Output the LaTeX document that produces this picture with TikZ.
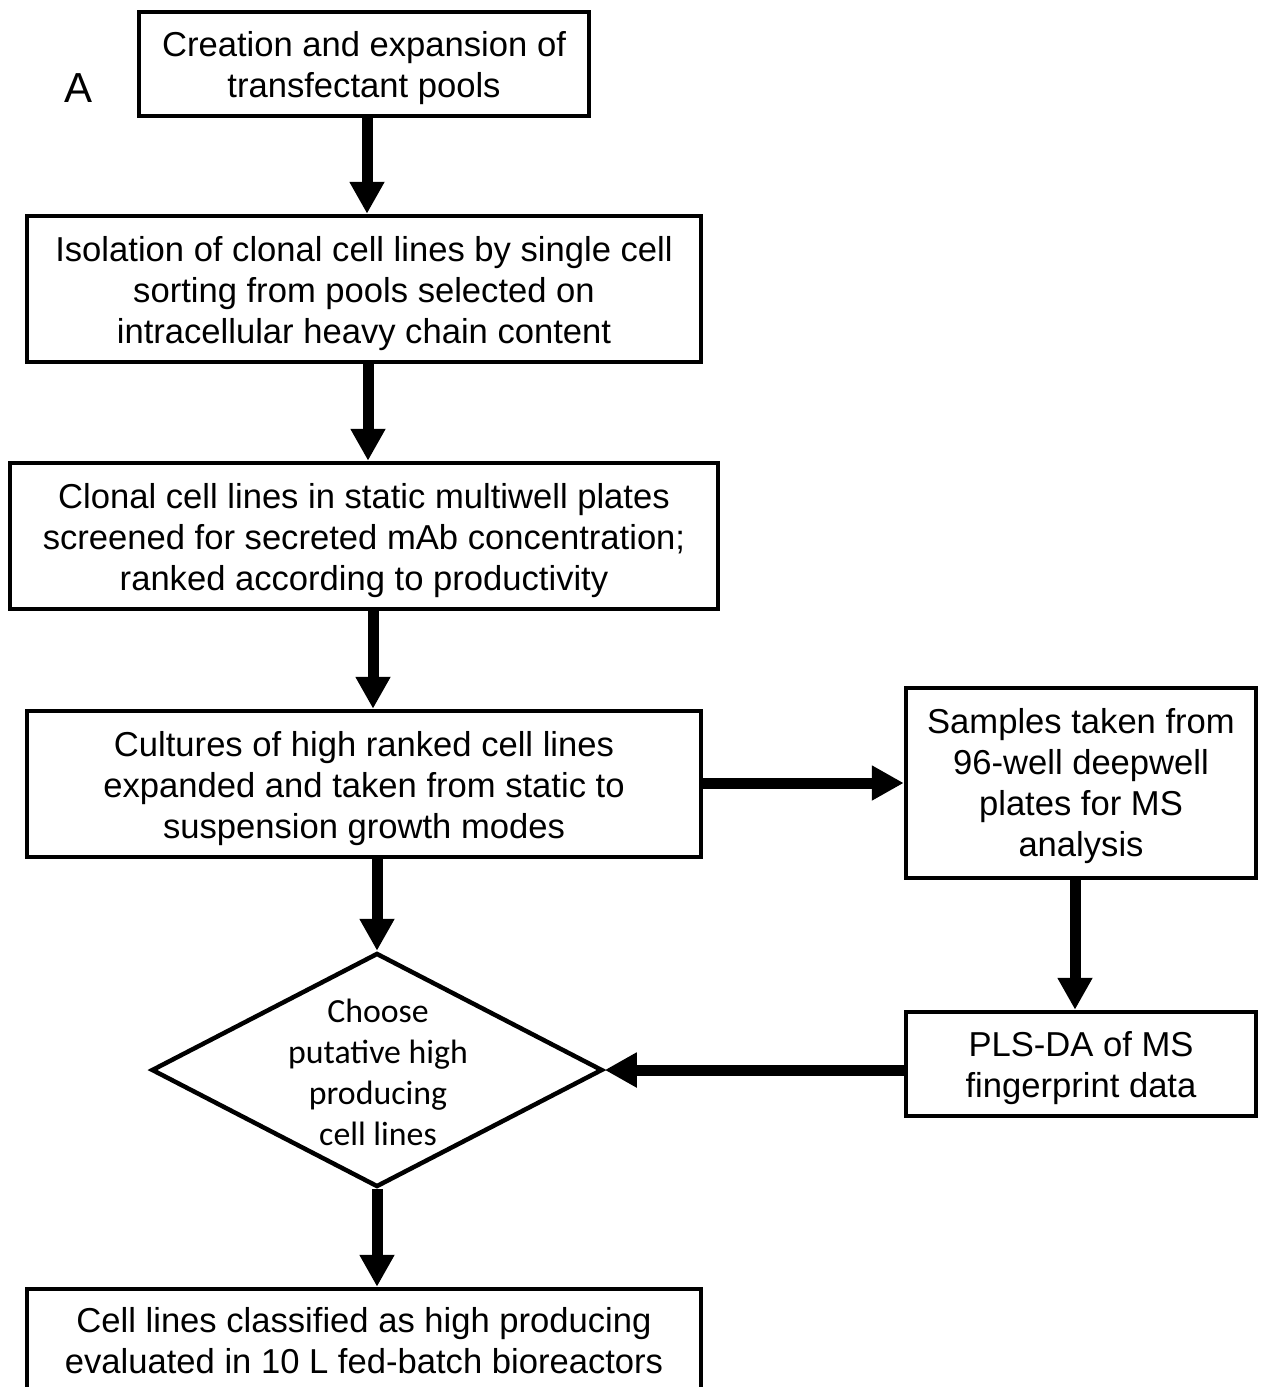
\documentclass[tikz,border=0pt]{standalone}
\usepackage{fontspec}
\setmainfont{Liberation Sans}
\newfontfamily\calib{Carlito}
\usetikzlibrary{arrows.meta,shapes.geometric}
\begin{document}
\begin{tikzpicture}[x=1pt,y=-1pt,
  box/.style={draw=black,line width=4.5pt,rectangle,inner sep=0pt},
  txt/.style={inner sep=0pt,align=center,font=\fontsize{34.6}{41}\selectfont},
  arr/.style={line width=11pt,-{Triangle[width=33pt,length=32pt]}},
  dia/.style={draw=black,line width=4.5pt,diamond,inner sep=0pt,minimum width=451pt,minimum height=234pt}]
\useasboundingbox (0,0) rectangle (1262,1387);
\clip (0,0) rectangle (1262,1387);
\node[box,minimum width=450pt,minimum height=104pt] (b1) at (364,64) {};
\node[txt] (t1) at ([yshift=-4pt]b1.center) {Creation and expansion of\\transfectant pools};
\node[font=\fontsize{42}{48}\selectfont,inner sep=0pt] (lab) at (79,88) {A};
\node[box,minimum width=674pt,minimum height=146pt] (b2) at (364,289) {};
\node[txt] (t2) at ([yshift=-4.5pt]b2.center) {Isolation of clonal cell lines by single cell\\sorting from pools selected on\\intracellular heavy chain content};
\node[box,minimum width=708pt,minimum height=146pt] (b3) at (364,536) {};
\node[txt] (t3) at ([yshift=-4.5pt]b3.center) {Clonal cell lines in static multiwell plates\\screened for secreted mAb concentration;\\ranked according to productivity};
\node[box,minimum width=674pt,minimum height=146pt] (b4) at (364,784) {};
\node[txt] (t4) at ([yshift=-4.5pt]b4.center) {Cultures of high ranked cell lines\\expanded and taken from static to\\suspension growth modes};
\node[box,minimum width=350pt,minimum height=190pt] (b5) at (1081,783) {};
\node[txt] (t5) at ([yshift=-3.5pt]b5.center) {Samples taken from\\96-well deepwell\\plates for MS\\analysis};
\node[box,minimum width=350pt,minimum height=104pt] (b6) at (1081,1064) {};
\node[txt] (t6) at ([yshift=-4pt]b6.center) {PLS-DA of MS\\fingerprint data};
\node[dia] (d) at (377,1070) {};
\node[align=center,inner sep=0pt,font=\calib\fontsize{33.8}{41}\selectfont] (dt) at (378,1072) {Choose\\putative high\\producing\\cell lines};
\node[box,minimum width=674pt,minimum height=104pt] (b7) at (364,1341) {};
\node[txt] (t7) at ([yshift=0pt]b7.center) {Cell lines classified as high producing\\evaluated in 10 L fed-batch bioreactors};
\draw[arr] (367,0 |- b1.south) -- (367,0 |- b2.north);
\draw[arr] (368,0 |- b2.south) -- (368,0 |- b3.north);
\draw[arr] (373,0 |- b3.south) -- (373,0 |- b4.north);
\draw[arr] (d.north |- b4.south) -- (d.north);
\draw[arr] (d.south) -- (d.south |- b7.north);
\draw[arr] (b4.east |- 0,783) -- (b5.west |- 0,783);
\draw[arr] (1075,0 |- b5.south) -- (1075,0 |- b6.north);
\draw[arr] (b6.west |- d.east) -- (d.east);
\end{tikzpicture}
\end{document}
